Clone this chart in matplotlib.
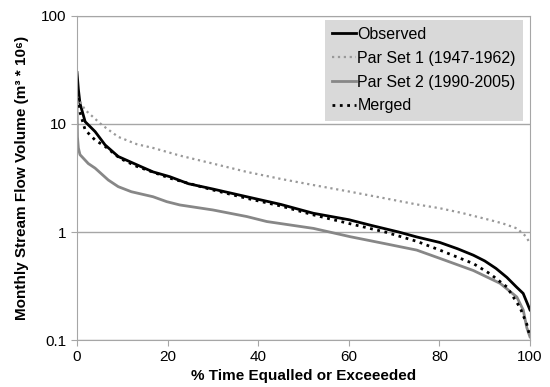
# imports
from matplotlib import pyplot as plt

plt.rcParams['font.family'] = ['Liberation Sans', 'DejaVu Sans']

# flow duration curves
obs_x = [0, 0.3, 0.66, 1.8, 4, 6.2, 9.1, 14.3, 16.8, 20.5, 24.6, 30, 37.5, 45, 52.2,
         60, 65, 71, 75, 80.1, 84, 87.5, 90, 92.5, 94.9, 97, 98.5, 100]
obs_y = [30, 21, 15.5, 10.5, 8.5, 6.4, 5.0, 4.0, 3.6, 3.25, 2.8, 2.5, 2.12, 1.8, 1.49,
         1.3, 1.15, 1.0, 0.9, 0.8, 0.7, 0.61, 0.54, 0.46, 0.38, 0.31, 0.27, 0.19]

ps1_x = [0, 1.8, 5.5, 9.1, 13.2, 16.8, 22.7, 30, 37.5, 45, 52.2, 60.3, 68, 75, 80.1,
         85, 91.2, 94, 97.1, 99, 100]
ps1_y = [17.9, 13.5, 9.8, 7.6, 6.5, 6.0, 5.1, 4.3, 3.6, 3.1, 2.72, 2.36, 2.05, 1.8,
         1.66, 1.5, 1.29, 1.2, 1.08, 0.92, 0.79]

ps2_x = [0, 0.1, 0.3, 0.66, 2.5, 4, 6.9, 9.1, 12, 16.8, 19.8, 22.7, 30, 37.5, 41.9,
         52.2, 60.3, 68, 75, 80.1, 87.5, 93.4, 97.1, 98.5, 99.3, 100]
ps2_y = [15, 7.6, 6.0, 5.2, 4.3, 3.9, 3.03, 2.63, 2.36, 2.12, 1.91, 1.78, 1.6, 1.39,
         1.25, 1.08, 0.905, 0.78, 0.68, 0.57, 0.44, 0.335, 0.25, 0.19, 0.13, 0.107]

mrg_x = [0, 0.4, 1.8, 4, 6.2, 9.5, 13.2, 20.5, 30, 37.5, 45, 52.2, 60, 68, 75, 80.1,
         87.5, 91.2, 94.9, 97.8, 99.3, 100]
mrg_y = [24, 14, 8.8, 7.1, 6.2, 4.8, 4.05, 3.15, 2.45, 2.05, 1.74, 1.44, 1.2, 1.0,
         0.82, 0.68, 0.51, 0.41, 0.31, 0.2, 0.14, 0.107]

xticks = [0, 20, 40, 60, 80, 100]
yticks = [0.1, 1, 10, 100]
yticklabels = ['0.1', '1', '10', '100']

f = plt.figure(figsize=(5.5, 3.87), dpi=100)
ax = f.add_axes([0.14, 0.1214, 0.8236, 0.8373])

ax.plot(obs_x, obs_y, '-', color='black', lw=2, label='Observed')
ax.plot(ps1_x, ps1_y, ':', color='#999999', lw=1.6, label='Par Set 1 (1947-1962)')
ax.plot(ps2_x, ps2_y, '-', color='#878787', lw=2, label='Par Set 2 (1990-2005)')
ax.plot(mrg_x, mrg_y, ':', color='black', lw=2, label='Merged')

ax.set_yscale('log')
ax.set_xlim(0, 100)
ax.set_ylim(0.1, 100)
ax.set_xticks(xticks)
ax.set_yticks(yticks)
ax.set_yticklabels(yticklabels)
ax.minorticks_off()
ax.yaxis.grid(True, color='#a6a6a6', lw=1)
ax.set_axisbelow(True)
for s in ax.spines.values():
    s.set_color('#a6a6a6')
ax.tick_params(axis='both', colors='#a6a6a6', labelcolor='black', labelsize=11,
               length=4, direction='out')

ax.set_xlabel('% Time Equalled or Exceeeded', fontsize=11, fontweight='bold', labelpad=3)
ax.set_ylabel('Monthly Stream Flow Volume (m³ * 10⁶)', fontsize=11,
              fontweight='bold', labelpad=9)

leg = ax.legend(loc='upper right', bbox_to_anchor=(0.985, 0.988), borderaxespad=0,
                fontsize=11.5, frameon=True, fancybox=False, framealpha=1,
                handlelength=1.5, handletextpad=0.1, labelspacing=0.55,
                borderpad=0.45)
leg.get_frame().set_facecolor('#d9d9d9')
leg.get_frame().set_edgecolor('none')

plt.savefig('out.png', dpi=100)
plt.close(f)
